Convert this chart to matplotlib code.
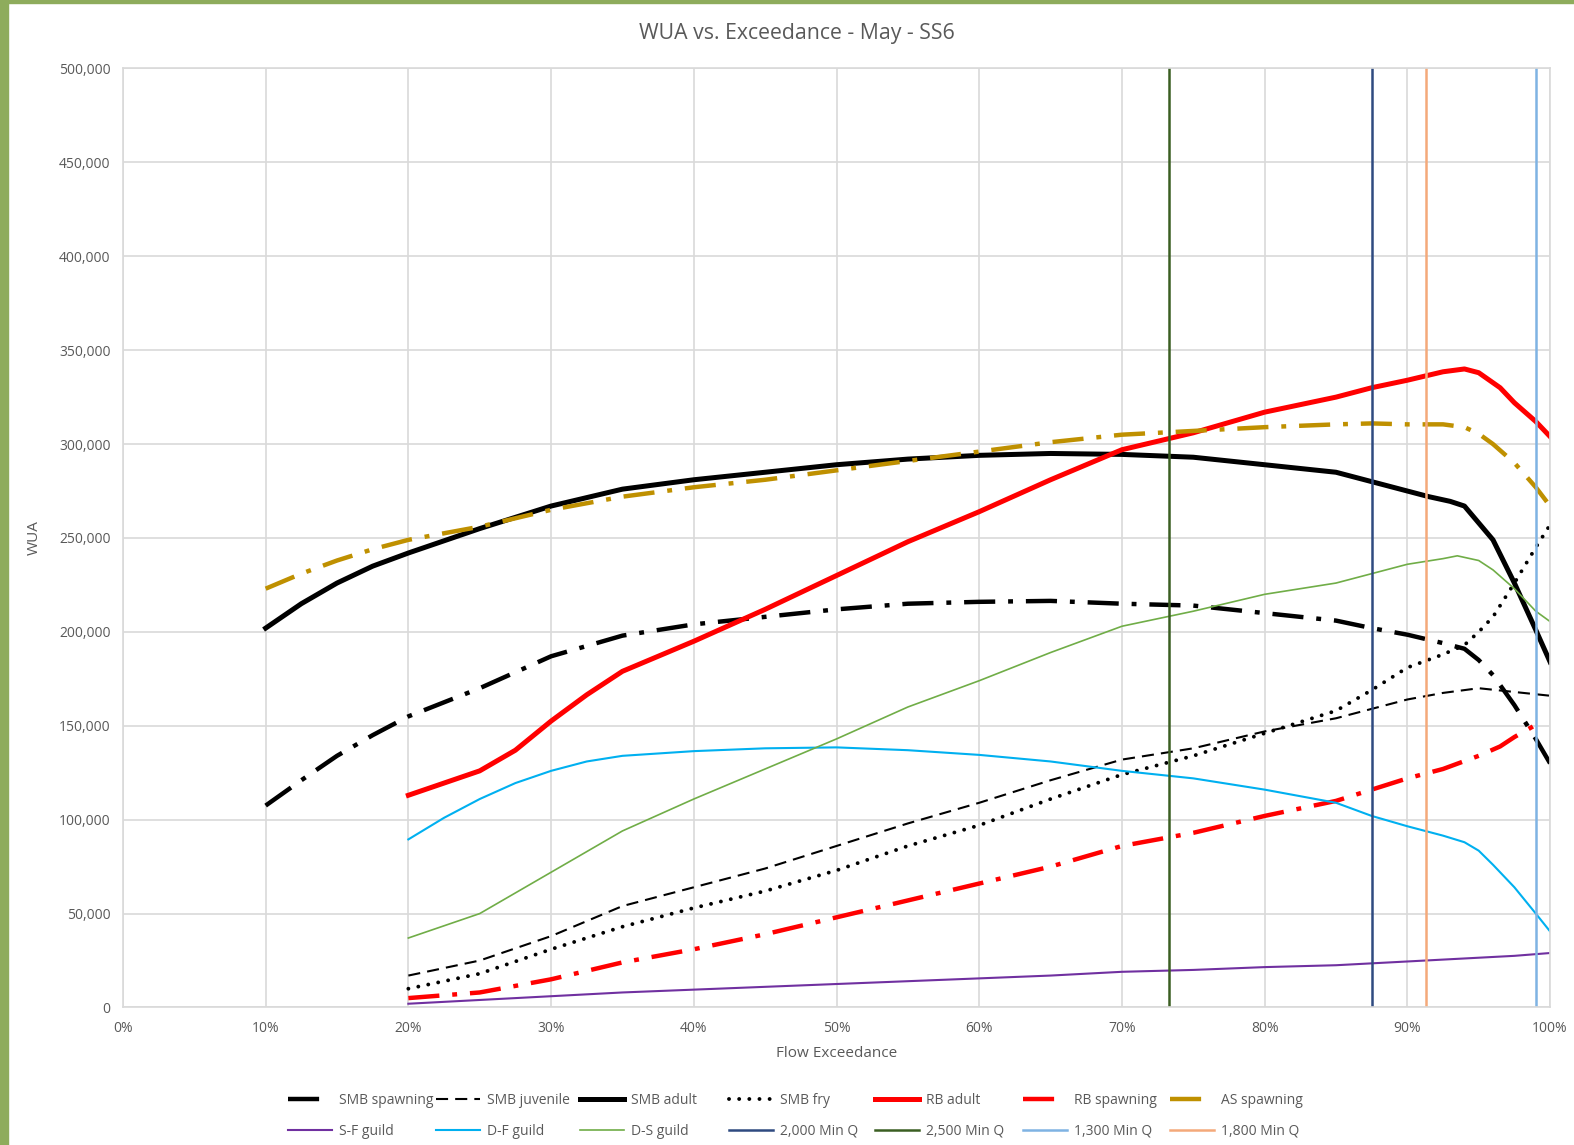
import matplotlib.pyplot as plt
from matplotlib.patches import Rectangle
from matplotlib.ticker import FuncFormatter, MultipleLocator

plt.rcParams['font.family'] = ['Open Sans', 'DejaVu Sans']

# flow exceedance (%) and WUA (thousands)
smb_spawning_x = [10, 12.5, 15, 17.5, 20, 25, 30, 35, 40, 45, 50, 55, 60, 65, 70, 75, 80, 85, 87.5, 90, 92.5, 94, 95, 96, 97.5, 99, 100]
smb_spawning = [107.5, 121, 134, 145, 155, 170, 187, 198, 204, 208, 212, 215, 216, 216.5, 215, 214, 210, 206, 202, 198.5, 194, 191, 185, 177, 161, 143, 130]

smb_juvenile_x = [20, 25, 30, 35, 40, 45, 50, 55, 60, 65, 70, 75, 80, 85, 87.5, 90, 92.5, 95, 97.5, 100]
smb_juvenile = [17, 25, 38, 54, 64, 74, 86, 98, 109, 121, 132, 138, 147, 154, 159, 164, 167.5, 170, 168, 166]

smb_adult_x = [10, 12.5, 15, 17.5, 20, 25, 30, 35, 40, 45, 50, 55, 60, 65, 70, 75, 80, 85, 87.5, 90, 91.5, 93, 94, 95, 96, 97.5, 99, 100]
smb_adult = [202, 215, 226, 235, 242, 255, 267, 276, 281, 285, 289, 292, 294, 295, 294.5, 293, 289, 285, 280, 275, 272, 269.5, 267, 258, 249, 226, 201, 184]

smb_fry_x = [20, 25, 30, 35, 40, 45, 50, 55, 60, 65, 70, 75, 80, 85, 87.5, 90, 92.5, 94, 95, 96, 97.5, 99, 100]
smb_fry = [10, 18, 31, 43, 53, 62, 73, 86, 97, 111, 124, 134, 146, 158, 169, 181, 188, 193, 200, 208, 226, 245, 257]

rb_adult_x = [20, 22.5, 25, 27.5, 30, 32.5, 35, 40, 45, 50, 55, 60, 65, 70, 75, 80, 85, 87.5, 90, 92.5, 94, 95, 96.5, 97.5, 99, 100]
rb_adult = [113, 119.5, 126, 137, 152.5, 166.5, 179, 195, 212, 230, 248, 264, 281, 297, 306, 317, 325, 330, 334, 338.5, 340, 338, 330, 322, 312, 304]

rb_spawning_x = [20, 25, 30, 35, 40, 45, 50, 55, 60, 65, 70, 75, 80, 85, 87.5, 90, 92.5, 95, 96.5, 97.5, 99]
rb_spawning = [5, 8, 15, 24, 31, 39, 48, 57, 66, 75, 86, 93, 102, 110, 116, 122, 127, 134, 139, 144, 150.5]

as_spawning_x = [10, 12.5, 15, 17.5, 20, 25, 30, 35, 40, 45, 50, 55, 60, 65, 70, 75, 80, 85, 87.5, 90, 92.5, 94, 95, 96, 97.5, 99, 100]
as_spawning = [223, 231, 238, 244, 249, 256, 265, 272, 277, 281, 286, 291, 296, 301, 305, 307, 309, 310.5, 311, 310.5, 310.5, 309, 305.5, 300, 290, 277, 267]

sf_guild_x = [20, 25, 30, 35, 40, 45, 50, 55, 60, 65, 70, 75, 80, 85, 87.5, 90, 92.5, 95, 97.5, 100]
sf_guild = [2, 4, 6, 8, 9.5, 11, 12.5, 14, 15.5, 17, 19, 20, 21.5, 22.5, 23.5, 24.5, 25.5, 26.5, 27.5, 29]

df_guild_x = [20, 22.5, 25, 27.5, 30, 32.5, 35, 40, 45, 50, 55, 60, 65, 70, 75, 80, 85, 87.5, 90, 92.5, 94, 95, 96, 97.5, 99, 100]
df_guild = [89.5, 101, 111, 119.5, 126, 131, 134, 136.5, 138, 138.5, 137, 134.5, 131, 126, 122, 116, 109, 102, 96.5, 91.5, 88, 83.5, 76, 64, 50, 40.5]

ds_guild_x = [20, 25, 30, 35, 40, 45, 50, 55, 60, 65, 70, 75, 80, 85, 87.5, 90, 92.5, 93.5, 95, 96, 97.5, 99, 100]
ds_guild = [37, 50, 72, 94, 111, 127, 143, 160, 174, 189, 203, 211, 220, 226, 231, 236, 239, 240.5, 238, 233, 223, 211, 205.5]

# minimum flow exceedance markers
minq_labels = ['2,000 Min Q', '2,500 Min Q', '1,300 Min Q', '1,800 Min Q']
minq_x = [87.5, 73.3, 99.0, 91.3]
minq_colors = ['#2f4a80', '#3b5e22', '#7fb3e3', '#f4a97a']

grey = '#595959'
dashdot = (7, 2.9, 1.1, 2.9)

fig = plt.figure(figsize=(15.74, 11.45), dpi=100)
ax = fig.add_axes([0.0781, 0.1201, 0.9067, 0.8201])

k = lambda v: [a * 1000 for a in v]

ax.plot(smb_spawning_x, k(smb_spawning), color='black', lw=3.2, dashes=dashdot, label='SMB spawning')
ax.plot(smb_juvenile_x, k(smb_juvenile), color='black', lw=1.5, dashes=(5.8, 3.4), label='SMB juvenile')
ax.plot(smb_adult_x, k(smb_adult), color='black', lw=3.6, label='SMB adult')
ax.plot(smb_fry_x, k(smb_fry), color='black', lw=2.8, dashes=(0.01, 2.6), dash_capstyle='round', label='SMB fry')
ax.plot(rb_adult_x, k(rb_adult), color='#ff0000', lw=3.6, label='RB adult')
ax.plot(rb_spawning_x, k(rb_spawning), color='#ff0000', lw=3.2, dashes=dashdot, label='RB spawning')
ax.plot(as_spawning_x, k(as_spawning), color='#bf9000', lw=3.2, dashes=dashdot, label='AS spawning')
ax.plot(sf_guild_x, k(sf_guild), color='#7030a0', lw=1.5, label='S-F guild')
ax.plot(df_guild_x, k(df_guild), color='#00b0f0', lw=1.5, label='D-F guild')
ax.plot(ds_guild_x, k(ds_guild), color='#70ad47', lw=1.2, label='D-S guild')
for lab, xv, c in zip(minq_labels, minq_x, minq_colors):
    ax.axvline(xv, color=c, lw=1.8, label=lab)

ax.set_xlim(0, 100)
ax.set_ylim(0, 500000)
ax.xaxis.set_major_locator(MultipleLocator(10))
ax.yaxis.set_major_locator(MultipleLocator(50000))
ax.xaxis.set_major_formatter(FuncFormatter(lambda v, p: '%d%%' % v))
ax.yaxis.set_major_formatter(FuncFormatter(lambda v, p: '{:,.0f}'.format(v)))
ax.grid(True, color='#d9d9d9', lw=1.2)
ax.set_axisbelow(True)
for s in ax.spines.values():
    s.set_color('#d9d9d9')
    s.set_linewidth(1.2)
ax.tick_params(length=0, labelsize=10, labelcolor=grey)
ax.tick_params(axis='x', pad=10)
ax.tick_params(axis='y', pad=9)

ax.set_xlabel('Flow Exceedance', fontsize=11, color=grey, labelpad=7)
ax.set_ylabel('WUA', fontsize=11, color=grey)
ax.yaxis.set_label_coords(-0.0567, 0.5)
fig.text(0.506, 0.9705, 'WUA vs. Exceedance - May - SS6', ha='center', va='center', fontsize=15.3, color=grey)

# legend: 7 columns placed by hand, two rows
handles, labels = ax.get_legend_handles_labels()
order = [(0, 7), (1, 8), (2, 9), (3, 10), (4, 11), (5, 12), (6, 13)]
col_x = [288, 436, 580, 729, 875, 1023, 1170]
for (i, j), cx in zip(order, col_x):
    leg = fig.legend([handles[i], handles[j]], [labels[i], labels[j]],
                     loc='upper left', bbox_to_anchor=(cx / 1574, 1 - 1093 / 1145),
                     frameon=False, fontsize=10, handlelength=3.2, handletextpad=0.5,
                     labelspacing=1.15, borderaxespad=0, borderpad=0)
    for t in leg.get_texts():
        t.set_color(grey)

# green frame from the screenshot
fig.patches.append(Rectangle((0, 0), 8 / 1574, 1, transform=fig.transFigure, color='#8eac5c', zorder=0))
fig.patches.append(Rectangle((0, 1 - 3 / 1145), 1, 3 / 1145, transform=fig.transFigure, color='#8eac5c', zorder=0))

fig.savefig('out.png', dpi=100)
